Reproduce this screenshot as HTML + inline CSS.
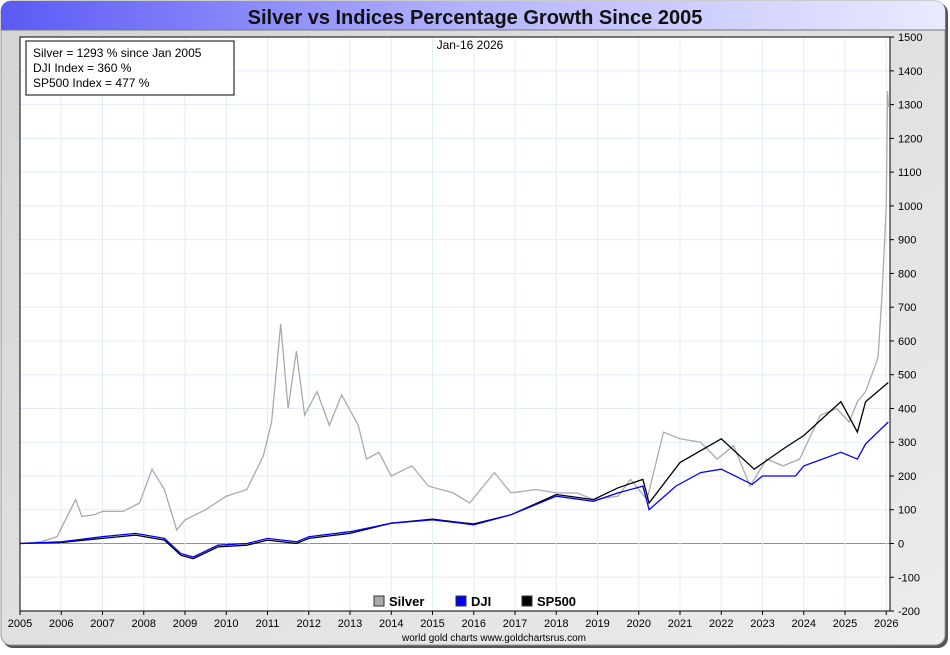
<!DOCTYPE html>
<html><head><meta charset="utf-8"><style>
body{margin:0;width:950px;height:650px;background:#fff;font-family:"Liberation Sans",sans-serif;overflow:hidden}
</style></head><body>
<svg id="c" width="950" height="650" xmlns="http://www.w3.org/2000/svg">
<defs>
<linearGradient id="tg" x1="0" x2="1"><stop offset="0" stop-color="#5a5af5"/><stop offset="0.5" stop-color="#b4b4ff"/><stop offset="1" stop-color="#eaeaff"/></linearGradient>
<linearGradient id="pg" x1="0" x2="1" y1="0" y2="1"><stop offset="0" stop-color="#d4d4d4"/><stop offset="1" stop-color="#ececec"/></linearGradient>
</defs>
<rect x="3" y="3" width="945" height="645" rx="10" fill="#555"/>
<rect x="1" y="1" width="944" height="644" rx="10" fill="url(#pg)" stroke="#999"/>
<path d="M1 30 V11 a10 10 0 0 1 10 -10 H935 a10 10 0 0 1 10 10 V30 Z" fill="url(#tg)"/>
<line x1="1" y1="30" x2="945" y2="30" stroke="#777"/>
<text x="475" y="24" text-anchor="middle" font-size="20" font-weight="bold" fill="#111">Silver vs Indices Percentage Growth Since 2005</text>
<rect x="20" y="37" width="870" height="574" fill="#fff"/>
<g id="grid"></g>
<g id="series"></g>
<rect x="20" y="37" width="870" height="574" fill="none" stroke="#000"/>
<g id="axes"></g>
<rect x="26" y="41" width="208" height="54" fill="#fff" stroke="#000"/>
<text x="33" y="57" font-size="12">Silver = 1293 % since Jan 2005</text>
<text x="33" y="72" font-size="12">DJI Index = 360 %</text>
<text x="33" y="87" font-size="12">SP500 Index = 477 %</text>
<text x="470" y="49" text-anchor="middle" font-size="12">Jan-16  2026</text>
<g>
<rect x="374" y="596" width="10" height="10" fill="#aaa" stroke="#333"/>
<text x="389" y="606" font-size="13" font-weight="bold">Silver</text>
<rect x="456" y="596" width="10" height="10" fill="#0000ff" stroke="#333"/>
<text x="471" y="606" font-size="13" font-weight="bold">DJI</text>
<rect x="522" y="596" width="10" height="10" fill="#000" stroke="#333"/>
<text x="537" y="606" font-size="13" font-weight="bold">SP500</text>
</g>
<text x="494" y="641" text-anchor="middle" font-size="10">world gold charts www.goldchartsrus.com</text>
</svg>
<script>
const yTicks=[-200,-100,0,100,200,300,400,500,600,700,800,900,1000,1100,1200,1300,1400,1500];
const xYears=[2005,2006,2007,2008,2009,2010,2011,2012,2013,2014,2015,2016,2017,2018,2019,2020,2021,2022,2023,2024,2025,2026];
const silverT=[2005,2005.5,2005.9,2006.1,2006.35,2006.5,2006.8,2007,2007.5,2007.9,2008.2,2008.5,2008.8,2009,2009.5,2010,2010.5,2010.9,2011.1,2011.32,2011.5,2011.7,2011.9,2012.2,2012.5,2012.8,2013.2,2013.4,2013.7,2014,2014.5,2014.9,2015.5,2015.9,2016.5,2016.9,2017.5,2018,2018.5,2018.9,2019.5,2019.8,2020.2,2020.6,2021,2021.5,2021.9,2022.3,2022.7,2023.1,2023.5,2023.9,2024.4,2024.8,2025.1,2025.3,2025.5,2025.8,2025.9,2026,2026.03,2026.05];
const silverV=[0,5,20,70,130,80,85,95,95,120,220,160,40,70,100,140,160,260,360,650,400,570,380,450,350,440,350,250,270,200,230,170,150,120,210,150,160,150,150,130,140,190,130,330,310,300,250,290,170,250,230,250,380,400,360,420,450,550,740,1000,1340,1293];
const djiT=[2005,2006,2007,2007.8,2008.5,2008.9,2009.2,2009.8,2010.5,2011,2011.7,2012,2013,2014,2015,2015.7,2016,2016.9,2018,2018.9,2019.5,2020.1,2020.25,2020.9,2021.5,2022,2022.75,2023,2023.8,2024,2024.9,2025.3,2025.5,2026.05];
const djiV=[0,5,20,30,15,-30,-40,-5,0,15,5,20,35,60,70,60,55,85,140,125,150,170,100,170,210,220,175,200,200,230,270,250,295,360];
const spT=[2005,2006,2007,2007.8,2008.5,2008.9,2009.2,2009.8,2010.5,2011,2011.7,2012,2013,2014,2015,2015.7,2016,2016.9,2018,2018.9,2019.5,2020.1,2020.25,2021,2022,2022.8,2023.5,2024,2024.9,2025.3,2025.5,2026.05];
const spV=[0,3,15,25,10,-35,-45,-10,-5,10,0,15,30,60,72,62,58,85,145,130,165,190,120,240,310,220,280,320,420,330,420,477];
const X=t=>20+(t-2005)*41.25, Y=v=>543.5-v*0.3376;
const NS="http://www.w3.org/2000/svg";
function mk(tag,attrs,parent){const e=document.createElementNS(NS,tag);for(const k in attrs)e.setAttribute(k,attrs[k]);parent.appendChild(e);return e;}
const grid=document.getElementById('grid'),axes=document.getElementById('axes'),ser=document.getElementById('series');
yTicks.forEach(v=>{
 const l=mk('line',{x1:20,x2:890,y1:Y(v),y2:Y(v),stroke:v===0?'#ff6060':'#e0eef8'},grid);
 
 
 const tk=mk('line',{x1:890,x2:894,y1:Y(v),y2:Y(v),stroke:'#000'},axes);
 
 
 const t=mk('text',{x:898,y:Y(v)+4,'font-size':11},axes);t.textContent=v;
 
 
});
xYears.forEach(yr=>{
 const l=mk('line',{x1:X(yr),x2:X(yr),y1:37,y2:611,stroke:'#e0eef8'},grid);
 
 
 const tk=mk('line',{x1:X(yr),x2:X(yr),y1:611,y2:615,stroke:'#000'},axes);
 
 
 const t=mk('text',{x:X(yr),y:627,'font-size':11,'text-anchor':'middle'},axes);t.textContent=yr;
 
 
});
function line(T,V,color,name){
 const p=mk('path',{d:T.map((t,i)=>(i?'L':'M')+X(t).toFixed(1)+' '+Y(V[i]).toFixed(1)).join(''),fill:'none',stroke:color,'stroke-width':1.3},ser);
 
 
}
line(silverT,silverV,'#aaaaaa','silver-line');
line(spT,spV,'#000000','sp500-line');
line(djiT,djiV,'#0000ff','dji-line');
</script>
</body></html>
